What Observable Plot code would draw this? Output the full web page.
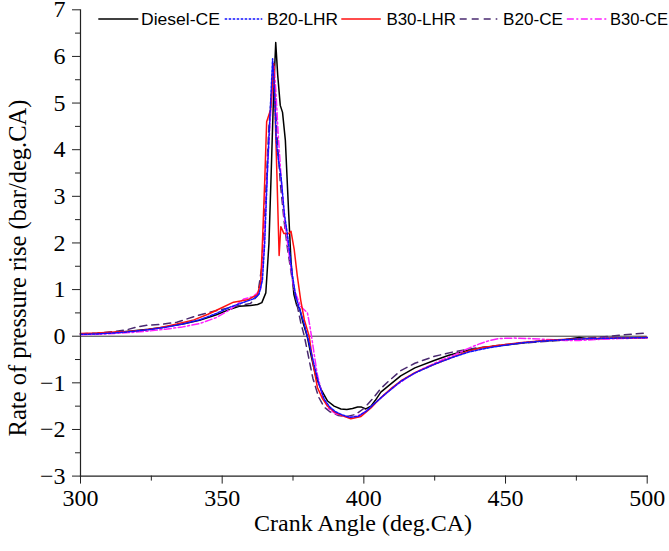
<!DOCTYPE html>
<html>
<head>
<meta charset="utf-8">
<script src="https://cdn.jsdelivr.net/npm/d3@7"></script>
<script src="https://cdn.jsdelivr.net/npm/@observablehq/plot@0.6"></script>
<style>
  html, body { margin: 0; padding: 0; background: #fff; }
  #chart { width: 669px; height: 551px; }
  #chart svg text.tick-serif { font-family: "Liberation Serif", "Times New Roman", serif !important; }
</style>
</head>
<body>
<div id="chart"></div>
<script>
// ---- Data ----
const seriesNames = ["Diesel-CE", "B20-LHR", "B30-LHR", "B20-CE", "B30-CE"];

const dieselX = [300, 306, 312, 318, 324, 330, 336, 342, 348, 352, 356, 360, 362.5, 364, 365.4, 366.5, 367.3, 368.2, 368.9, 369.6, 370.5, 371.3, 372.3, 373.5, 374.3, 375.3, 376.3, 377.3, 378.5, 380, 381.5, 383, 385, 387.2, 389.5, 391.9, 394, 396, 397.8, 399.2, 400.7, 402.5, 404, 406, 409, 413, 418, 424.8, 430, 436.7, 442, 448.5, 455, 462, 470, 476, 480, 490, 500];
const dieselY = [0.05, 0.06, 0.08, 0.11, 0.15, 0.2, 0.26, 0.34, 0.46, 0.56, 0.64, 0.66, 0.68, 0.72, 0.93, 1.98, 3.5, 5.3, 6.3, 5.6, 4.95, 4.8, 4.2, 2.6, 1.6, 0.9, 0.66, 0.6, 0.3, 0.0, -0.45, -0.85, -1.15, -1.39, -1.5, -1.56, -1.57, -1.55, -1.52, -1.52, -1.56, -1.5, -1.38, -1.2, -1.05, -0.85, -0.68, -0.52, -0.41, -0.3, -0.24, -0.2, -0.15, -0.11, -0.08, -0.03, -0.06, -0.04, -0.03];

const b20lhrX = [300, 306, 312, 318, 324, 330, 336, 342, 348, 353, 357.7, 361, 363, 364.2, 365, 366, 367, 367.8, 368.5, 369.1, 369.8, 370.8, 372, 373, 374.8, 376, 377.5, 379, 380.5, 382, 384, 386, 388, 390, 392.5, 395, 398, 401, 404, 407, 410, 413, 418, 425, 431, 437, 443, 449, 456, 464, 472, 480, 490, 500];
const b20lhrY = [0.04, 0.05, 0.07, 0.1, 0.14, 0.19, 0.26, 0.35, 0.49, 0.63, 0.73, 0.8, 0.9, 1.2, 1.98, 3.6, 4.9, 5.95, 5.2, 4.2, 3.8, 3.4, 2.6, 2.2, 1.3, 0.85, 0.55, 0.25, -0.1, -0.5, -1.0, -1.35, -1.52, -1.62, -1.69, -1.74, -1.72, -1.6, -1.43, -1.27, -1.12, -0.97, -0.79, -0.6, -0.46, -0.34, -0.26, -0.2, -0.14, -0.1, -0.07, -0.05, -0.04, -0.03];

const b30lhrX = [300, 306, 312, 316.5, 322, 328, 334, 340, 345, 349.5, 354, 359, 362.4, 363.6, 364.2, 365, 365.7, 367.1, 368.2, 369.3, 370.1, 370.7, 371.8, 373.5, 374.3, 375.4, 376.5, 377.7, 379, 380.7, 382, 383.6, 385.5, 387.2, 389.5, 391.9, 395.4, 399, 402.5, 405, 407.2, 410, 413, 418, 424.9, 430, 436.8, 442, 448.4, 455, 462, 470, 480, 490, 500];
const b30lhrY = [0.06, 0.07, 0.09, 0.1, 0.13, 0.18, 0.26, 0.35, 0.47, 0.6, 0.73, 0.78, 0.89, 1.15, 2.0, 3.3, 4.6, 4.86, 5.85, 3.5, 1.73, 2.35, 2.2, 2.2, 2.25, 1.87, 1.3, 0.78, 0.35, 0.0, -0.55, -1.1, -1.35, -1.5, -1.62, -1.69, -1.77, -1.72, -1.54, -1.38, -1.25, -1.1, -0.96, -0.78, -0.6, -0.48, -0.32, -0.24, -0.19, -0.14, -0.1, -0.07, -0.05, -0.04, -0.03];

const b20ceX = [300, 306, 312, 316.5, 320, 324, 328, 334, 340, 346, 351.8, 356, 360, 362.5, 364, 365.3, 366.5, 368, 368.8, 369.5, 370.5, 371.8, 373, 374.5, 376, 377.7, 379, 380.5, 382, 384, 386, 388, 391, 394, 397, 400, 403, 406, 409, 413, 418, 425, 432, 440, 450, 460, 467, 475, 485, 492, 500];
const b20ceY = [0.05, 0.07, 0.1, 0.14, 0.2, 0.24, 0.25, 0.3, 0.42, 0.52, 0.6, 0.66, 0.7, 0.87, 1.5, 3.0, 4.5, 5.6, 5.0, 4.2, 3.3, 2.5, 1.9, 1.3, 0.8, 0.3, 0.0, -0.45, -0.9, -1.3, -1.52, -1.62, -1.7, -1.72, -1.68, -1.55, -1.35, -1.12, -0.95, -0.74, -0.58, -0.43, -0.33, -0.25, -0.18, -0.13, -0.1, -0.06, -0.01, 0.03, 0.07];

const b30ceX = [300, 306, 312, 318, 324, 330, 336, 342, 348, 353, 357.7, 361, 363.6, 364.8, 366, 367, 368.3, 369, 369.8, 370.8, 372, 373.5, 375.4, 377.7, 380.1, 381, 381.9, 383.5, 385.5, 387.5, 390, 393, 396, 399, 402, 405, 408, 411, 415, 420, 426, 432, 436.9, 441, 444, 447.6, 453, 458.3, 465, 471, 476, 482, 490, 500];
const b30ceY = [0.03, 0.04, 0.06, 0.08, 0.11, 0.15, 0.2, 0.27, 0.4, 0.58, 0.8, 0.85, 1.0, 2.0, 3.6, 4.7, 5.8, 5.2, 4.3, 3.4, 2.5, 1.8, 1.0, 0.64, 0.5, 0.2, -0.15, -0.8, -1.3, -1.55, -1.66, -1.72, -1.74, -1.68, -1.55, -1.38, -1.22, -1.07, -0.9, -0.72, -0.55, -0.4, -0.26, -0.16, -0.1, -0.05, -0.04, -0.05, -0.07, -0.09, -0.09, -0.07, -0.05, -0.04];

const xTicks = [300, 350, 400, 450, 500];
const xMinorTicks = [325, 375, 425, 475];
const yTicks = [-3, -2, -1, 0, 1, 2, 3, 4, 5, 6, 7];
const yMinorTicks = [-2.5, -1.5, -0.5, 0.5, 1.5, 2.5, 3.5, 4.5, 5.5, 6.5];

const xTitle = "Crank Angle (deg.CA)";
const yTitle = "Rate of pressure rise (bar/deg.CA)";

// ---- Styles ----
const SERIF = "'Liberation Serif', 'Times New Roman', serif";
const SANS = "'Liberation Sans', Arial, sans-serif";
const styles = {
  "Diesel-CE": {stroke: "#000000", dash: null},
  "B20-LHR": {stroke: "#1010ff", dash: "2.5,1.5"},
  "B30-LHR": {stroke: "#ff1010", dash: null},
  "B20-CE": {stroke: "#4a2a70", dash: "7,5"},
  "B30-CE": {stroke: "#ff20ff", dash: "7,2.5,2,2.5"}
};

const toRows = (name, xs, ys) => xs.map((x, i) => ({series: name, angle: x, value: ys[i]}));
const rows = {
  "Diesel-CE": toRows("Diesel-CE", dieselX, dieselY),
  "B20-LHR": toRows("B20-LHR", b20lhrX, b20lhrY),
  "B30-LHR": toRows("B30-LHR", b30lhrX, b30lhrY),
  "B20-CE": toRows("B20-CE", b20ceX, b20ceY),
  "B30-CE": toRows("B30-CE", b30ceX, b30ceY)
};

const drawOrder = ["Diesel-CE", "B20-CE", "B30-CE", "B30-LHR", "B20-LHR"];
const lineMarks = drawOrder.map(name => Plot.line(rows[name], {
  x: "angle", y: "value",
  stroke: styles[name].stroke,
  strokeWidth: 1.5,
  strokeDasharray: styles[name].dash || undefined,
  curve: "linear"
}));

const svg = Plot.plot({
  width: 669,
  height: 551,
  marginLeft: 80,
  marginRight: 22.3,
  marginTop: 9.3,
  marginBottom: 75.4,
  style: {fontFamily: SERIF, fontSize: "24px", color: "#000", background: "#fff", overflow: "visible"},
  x: {domain: [300, 500], label: null},
  y: {domain: [-3, 7], label: null},
  marks: [
    Plot.ruleY([0], {stroke: "#333", strokeWidth: 1}),
    ...lineMarks,
    Plot.axisX(xTicks, {tickSize: 8, tickPadding: 5, fontSize: 24, fontFamily: SERIF, stroke: "#222", fill: "#000"}),
    Plot.axisX(xMinorTicks, {tickSize: 5, tickFormat: () => "", stroke: "#222"}),
    Plot.axisY(yTicks, {tickSize: 8, tickPadding: 7, fontSize: 24, fontFamily: SERIF, stroke: "#222", fill: "#000"}),
    Plot.axisY(yMinorTicks, {tickSize: 5, tickFormat: () => "", stroke: "#222"}),
    Plot.frame({anchor: "left", stroke: "#222", strokeWidth: 1.2}),
    Plot.frame({anchor: "bottom", stroke: "#222", strokeWidth: 1.2})
  ]
});
svg.style.fontFamily = SERIF;
svg.style.fontSize = "24px";

document.getElementById("chart").appendChild(svg);

const s = d3.select(svg);
// force serif on all axis tick labels
s.selectAll("g[aria-label$='axis tick label'] text, g[aria-label*='tick label'] text")
  .classed("tick-serif", true)
  .style("font-family", SERIF)
  .style("font-size", "24px");

// ---- Axis titles ----
s.append("text")
  .attr("x", 363).attr("y", 531)
  .attr("text-anchor", "middle")
  .style("font-family", SERIF)
  .style("font-size", "24px")
  .attr("fill", "#000")
  .text(xTitle);
s.append("text")
  .attr("transform", "translate(26,268) rotate(-90)")
  .attr("text-anchor", "middle")
  .style("font-family", SERIF)
  .style("font-size", "24.5px")
  .attr("fill", "#000")
  .text(yTitle);

// ---- Legend ----
const legendSpec = [
  {name: "Diesel-CE", x0: 98.3, x1: 138.3, tx: 141, tw: 79},
  {name: "B20-LHR", x0: 224.7, x1: 262.3, tx: 267, tw: 71},
  {name: "B30-LHR", x0: 341.3, x1: 380.8, tx: 386.4, tw: 69.5},
  {name: "B20-CE", x0: 459.7, x1: 497.3, tx: 503, tw: 60},
  {name: "B30-CE", x0: 566.8, x1: 606.3, tx: 610, tw: 58}
];
const lg = s.append("g").attr("text-anchor", "start");
legendSpec.forEach(d => {
  lg.append("line")
    .attr("x1", d.x0).attr("x2", d.x1).attr("y1", 19).attr("y2", 19)
    .attr("stroke", styles[d.name].stroke)
    .attr("stroke-width", 1.5)
    .attr("stroke-dasharray", styles[d.name].dash || null);
  lg.append("text")
    .attr("x", d.tx).attr("y", 24.8)
    .attr("text-anchor", "start")
    .attr("textLength", d.tw)
    .attr("lengthAdjust", "spacingAndGlyphs")
    .style("font-family", SANS)
    .style("font-size", "16px")
    .attr("fill", "#000")
    .text(d.name);
});
</script>
</body>
</html>
